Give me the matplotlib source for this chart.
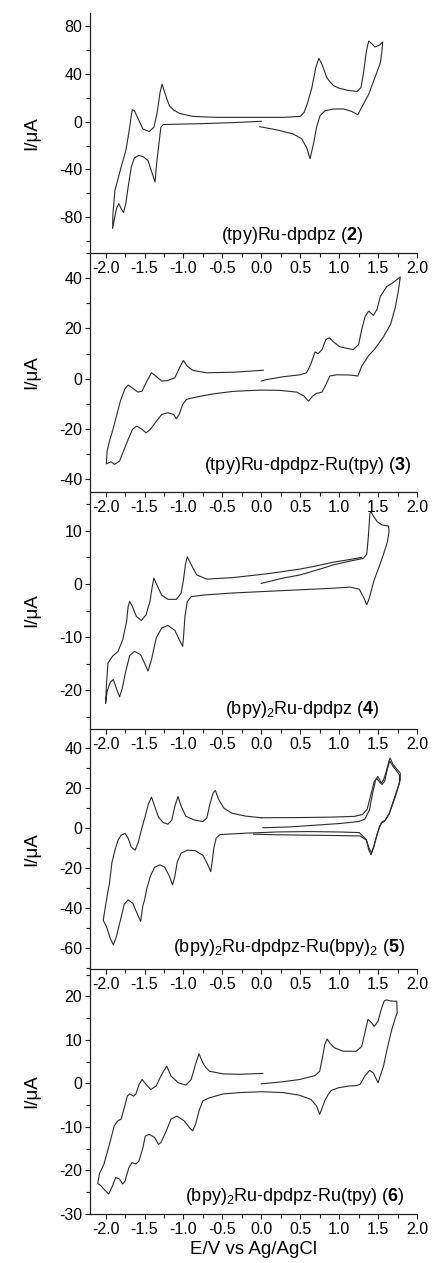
import matplotlib
matplotlib.use('Agg')
import matplotlib.pyplot as plt
from matplotlib.ticker import MultipleLocator, FormatStrFormatter

plt.rcParams['font.family'] = ['Liberation Sans', 'DejaVu Sans']
plt.rcParams['mathtext.fontset'] = 'custom'
plt.rcParams['mathtext.rm'] = 'Liberation Sans'
plt.rcParams['mathtext.it'] = 'Liberation Sans:italic'
plt.rcParams['mathtext.bf'] = 'Liberation Sans:bold'
plt.rcParams['axes.unicode_minus'] = False

# ---------------- data (E / V vs Ag/AgCl, I / uA) ----------------
# (tpy)Ru-dpdpz (2)
e_2 = [0.00, -0.36, -0.79, -1.13, -1.26, -1.29, -1.31, -1.34, -1.365, -1.40, -1.455, -1.52, -1.57, -1.63,
       -1.67, -1.71, -1.74, -1.77, -1.80, -1.83, -1.86, -1.89, -1.91,
       -1.905, -1.88, -1.84, -1.80, -1.74, -1.70, -1.67, -1.657, -1.63, -1.58, -1.52, -1.44, -1.38, -1.34,
       -1.30, -1.275, -1.24, -1.21, -1.18, -1.12, -1.05, -0.88, -0.575, -0.15, 0.28, 0.50, 0.55, 0.59, 0.65,
       0.70, 0.74, 0.78, 0.84, 0.88, 0.93, 1.00, 1.10, 1.23, 1.28, 1.31, 1.35, 1.38, 1.42, 1.46, 1.52, 1.56,
       1.55, 1.53, 1.46, 1.38, 1.29, 1.24, 1.16, 1.06, 0.93, 0.82, 0.755, 0.71, 0.67, 0.627, 0.58, 0.52,
       0.41, 0.24, 0.07, -0.02]
i_2 = [0.3, -0.8, -1.7, -2.2, -2.5, -4.7, -15.8, -32.5, -50.5, -43.6, -32.5, -29.2, -28.3, -30.3,
       -38, -54.7, -68.6, -76.1, -72.8, -68.6, -72.8, -82.5, -89.4,
       -77, -57.5, -47.8, -38, -24.2, -8.9, 5, 10, 9.2, 2.2, -6.1, -8.3, -4.7, 6.4,
       24.4, 31.4, 24.4, 18.5, 13.3, 9.5, 6.9, 4.4, 3.6, 3.6, 3.6, 4.4, 7.8, 14.7, 28.6,
       45.3, 53, 48, 37, 33.5, 30, 28, 26.4, 25.3, 28.6, 39.7, 59.2, 67.5, 65.3, 62.5, 64.2, 66.7,
       59.2, 49.4, 37, 23, 12, 5.8, 8.6, 10.6, 10.6, 9.2, 5, -4.7, -18.6, -31, -21.4, -14.4,
       -10.3, -7.5, -5.3, -4.2]

# (tpy)Ru-dpdpz-Ru(tpy) (3)
e_3 = [0.00, 0.07, 0.28, 0.50, 0.58, 0.635, 0.69, 0.73, 0.78, 0.83, 0.875, 0.93, 1.01, 1.18, 1.25, 1.29,
       1.335, 1.38, 1.44, 1.485, 1.53, 1.61, 1.70, 1.785,
       1.76, 1.72, 1.66, 1.57, 1.46, 1.38, 1.29, 1.24, 1.14, 0.97, 0.88, 0.83, 0.78, 0.71, 0.66, 0.605,
       0.55, 0.455, 0.24, -0.02, -0.36, -0.62, -0.875, -0.96, -1.01, -1.055, -1.09, -1.125, -1.20, -1.28,
       -1.355, -1.425, -1.48, -1.53, -1.60, -1.655, -1.71, -1.77, -1.82, -1.885, -1.93, -1.99,
       -1.98, -1.95, -1.905, -1.86, -1.81, -1.755, -1.71, -1.66, -1.585, -1.53, -1.47, -1.41, -1.355, -1.28,
       -1.20, -1.11, -1.05, -1.00, -0.95, -0.875, -0.70, -0.36, 0.026]
i_3 = [-0.9, -0.3, 0.8, 1.6, 2.4, 5.7, 10.7, 10, 11.6, 15.6, 16.3, 14.6, 12.7, 11.6, 13.6, 19.6,
       24.9, 26.9, 25.2, 27.5, 32.8, 36.6, 38.4, 40.5,
       34.8, 28.2, 21.6, 16.7, 11.9, 9.3, 5, 1.1, 1.5, 1.6, 1.1, -2.3, -5.3, -5.8, -6.9, -8.9,
       -6.9, -5.3, -4.6, -4.5, -5, -6, -7.5, -8.2, -10.2, -14.2, -15.9, -14.2, -13.5, -14.2,
       -17.2, -20.1, -21.5, -20.1, -18.8, -20.1, -24.1, -28.7, -32.7, -34, -33, -33.8,
       -28.7, -24.8, -20.1, -14.8, -8.9, -4.2, -2.5, -3.6, -5.3, -4.9, -0.9, 2.4, 1.1, -0.9,
       -0.7, 0.4, 4.4, 7.3, 5, 3.3, 2.4, 2.6, 3.4]

# (bpy)2Ru-dpdpz (4)
e_4 = [0.00, 0.28, 0.50, 0.71, 0.93, 1.14, 1.31, 1.355, 1.375, 1.395, 1.41, 1.44, 1.49, 1.55, 1.635,
       1.64, 1.62, 1.57, 1.505, 1.45, 1.41, 1.38, 1.355, 1.32, 1.26, 1.14, 0.93, 0.50, 0.07, -0.36,
       -0.75, -0.90, -0.95, -0.98, -1.00, -1.01, -1.05, -1.11, -1.20, -1.28, -1.35, -1.41, -1.455, -1.49,
       -1.55, -1.63, -1.69, -1.74, -1.785, -1.82, -1.855, -1.90, -1.94, -1.98, -2.00,
       -1.99, -1.97, -1.91, -1.84, -1.78, -1.73, -1.71, -1.69, -1.66, -1.605, -1.54, -1.48, -1.43, -1.40,
       -1.38, -1.35, -1.28, -1.20, -1.09, -1.03, -1.00, -0.975, -0.95, -0.91, -0.83, -0.70, -0.36, 0.07,
       0.50, 0.71, 0.93, 1.14, 1.29]
i_4 = [0.1, 1.1, 1.7, 2.6, 3.6, 4.3, 4.8, 5.6, 8.9, 13.25, 13.6, 12.75, 11.7, 11.1, 10.9,
       9.8, 7.9, 5.6, 2.9, 0.75, -1.4, -3, -3.9, -2.7, -1, -0.6, -0.8, -1.1, -1.4, -1.7,
       -2.1, -2.4, -3.3, -6.1, -10.2, -11.75, -10.6, -8.75, -7.8, -8.3, -10.2, -14.25, -16.4, -15.2,
       -13.3, -12.7, -13.5, -16.4, -19.6, -21.25, -19.9, -18, -18.5, -20.2, -22.5,
       -19.25, -14.9, -13.6, -12.7, -10.5, -7.1, -4.25, -3.3, -4.1, -6.1, -6.9, -5.8, -3.3, -0.5,
       1.1, 0.1, -2.1, -2.9, -2.9, -1.75, 0.75, 3.6, 5.1, 3.9, 1.7, 0.9, 1.2, 1.9,
       2.8, 3.4, 4.1, 4.6, 5.0]

# (bpy)2Ru-dpdpz-Ru(bpy)2 (5): first cycle
e_5 = [0.02, 0.35, 0.70, 1.00, 1.25, 1.33, 1.39, 1.43, 1.47, 1.496, 1.52, 1.54, 1.57, 1.61, 1.64, 1.655,
       1.69, 1.74, 1.785,
       1.785, 1.73, 1.645, 1.58, 1.54, 1.50, 1.45, 1.41, 1.38, 1.35, 1.26, 1.00, 0.60, 0.20, -0.20, -0.53,
       -0.58, -0.61, -0.635, -0.65, -0.69, -0.75, -0.85, -0.95, -1.03, -1.08, -1.11, -1.14, -1.18, -1.24,
       -1.30, -1.37, -1.42, -1.47, -1.50, -1.52, -1.55, -1.59, -1.65, -1.71, -1.76, -1.81, -1.86, -1.90,
       -1.945, -1.99, -2.03,
       -2.01, -1.98, -1.95, -1.92, -1.88, -1.84, -1.80, -1.75, -1.71, -1.67, -1.62, -1.58, -1.53, -1.49,
       -1.45, -1.41, -1.37, -1.32, -1.26, -1.20, -1.15, -1.11, -1.07, -1.03, -0.97, -0.87, -0.75, -0.70,
       -0.66, -0.62, -0.59, -0.55, -0.48, -0.38, -0.20, 0.00]
i_5 = [0.2, 0.6, 1.5, 2.3, 3.3, 4.5, 9.2, 17.5, 24.2, 25.8, 24.3, 22.5, 24, 29, 33.5, 35,
       32, 29.5, 27.5,
       24, 17.5, 7.5, 3.3, 2.5, -1.7, -8.3, -13.3, -10.8, -5.8, -2.2, -1.9, -1.7, -1.9, -2.5, -3.2,
       -5, -10, -18, -21.7, -18, -13.5, -11.2, -11, -12.5, -17, -24, -28.3, -24, -19.5,
       -18.3, -19.5, -23.5, -30, -36, -38.5, -46.5, -43, -37.5, -35.8, -38, -46, -54, -58.3,
       -54.5, -49, -46,
       -41, -34, -27.5, -17.5, -11, -6, -3.5, -2.6, -5, -9.5, -11, -7, 0.5, 6,
       12, 15.5, 11, 5.5, 2.8, 2, 4, 11, 15.8, 11, 6, 4.2, 3.3, 5,
       12, 17.5, 18.8, 14.5, 10, 7.5, 6, 5.2]
# (5): second cycle, positive region
e_5b = [0.00, 0.50, 0.90, 1.20, 1.30, 1.36, 1.41, 1.45, 1.485, 1.52, 1.55, 1.585, 1.62, 1.65, 1.69, 1.74,
        1.775, 1.775, 1.72, 1.64, 1.59, 1.555, 1.52, 1.48, 1.445, 1.415, 1.385, 1.35, 1.27, 1.00, 0.60,
        0.20, -0.10]
i_5b = [5.2, 5.3, 5.5, 5.9, 6.8, 9.5, 17, 23.3, 24.8, 23, 21.8, 23.5, 29.5, 33.5, 31, 28.5,
        26.5, 22.5, 15.5, 6.8, 3.8, 3.3, 1.0, -4, -9.5, -12.3, -10, -6, -3.9, -3.7, -3.5,
        -3.3, -3.0]

# (bpy)2Ru-dpdpz-Ru(tpy) (6)
e_6 = [0.00, 0.28, 0.49, 0.69, 0.75, 0.785, 0.815, 0.845, 0.88, 0.94, 1.05, 1.22, 1.29, 1.33, 1.37, 1.42,
       1.45, 1.50, 1.545, 1.58, 1.61, 1.65, 1.70, 1.74,
       1.745, 1.72, 1.67, 1.61, 1.57, 1.52, 1.50, 1.44, 1.39, 1.33, 1.27, 1.22, 1.12, 0.99, 0.90, 0.86,
       0.815, 0.77, 0.75, 0.71, 0.64, 0.49, 0.28, 0.00, -0.28, -0.49, -0.665, -0.75, -0.80, -0.845, -0.88,
       -0.92, -0.99, -1.085, -1.16, -1.22, -1.29, -1.32, -1.37, -1.44, -1.49, -1.52, -1.57, -1.61, -1.66,
       -1.70, -1.75, -1.78, -1.82, -1.87, -1.91, -1.96, -2.02, -2.06, -2.10,
       -2.08, -2.02, -1.95, -1.89, -1.845, -1.80, -1.76, -1.72, -1.69, -1.64, -1.61, -1.57, -1.53, -1.48,
       -1.42, -1.35, -1.29, -1.215, -1.16, -1.07, -0.97, -0.90, -0.845, -0.80, -0.75, -0.71, -0.665, -0.49,
       -0.28, 0.02]
i_6 = [-0.1, 0.4, 0.9, 1.8, 2.8, 5.9, 8.9, 10.2, 9.3, 8.2, 7.4, 7.4, 8.5, 11.6, 14.7, 13.9,
       13.1, 14.3, 17.3, 19, 19.2, 19.0, 18.9, 18.9,
       16.2, 15, 12, 7.4, 4, 1.3, 0.15, 2.4, 3, 1.7, -0.2, -0.5, -0.6, -1, -1.6, -2.5,
       -4, -6.2, -7.1, -5.2, -3.7, -2.7, -2.1, -1.9, -2.1, -2.4, -3.3, -4, -6.3, -9.4, -10.9,
       -10.2, -8.6, -7.5, -8.2, -10.9, -13.6, -14, -12.4, -11.7, -12.1, -14.7, -17.8, -18.5, -18.2,
       -19.3, -22.4, -23.1, -22, -21.6, -23.5, -25.4, -24.3, -23.5, -23,
       -20.8, -18.5, -14, -9.8, -8.6, -8.2, -5.6, -2.9, -2.4, -2.9, -2.4, -0.2, 0.9, -0.2,
       -1.4, -0.6, 1.7, 4, 1.7, 0.2, -0.4, 0.9, 4.4, 6.8, 4.7, 3.6, 2.8, 2.2,
       2.1, 2.3]

labels = [r'(tpy)Ru-dpdpz ($\mathbf{2}$)',
          r'(tpy)Ru-dpdpz-Ru(tpy) ($\mathbf{3}$)',
          r'(bpy)$_2$Ru-dpdpz ($\mathbf{4}$)',
          r'(bpy)$_2$Ru-dpdpz-Ru(bpy)$_2$ ($\mathbf{5}$)',
          r'(bpy)$_2$Ru-dpdpz-Ru(tpy) ($\mathbf{6}$)']

# ---------------- layout ----------------
W, H = 433, 1263
fig = plt.figure(figsize=(W / 100, H / 100), dpi=100)
fig.patch.set_facecolor('white')

rows = [(13, 253), (253, 492), (492, 729), (729, 969), (969, 1214)]
ylims = [(-110, 91), (-45, 50), (-27.3, 17.3), (-70.3, 49.5), (-30, 26.3)]
ymaj = [40, 20, 10, 20, 10]
ymin = [20, 10, 5, 10, 5]
txt_pos = [(0.835, 0.071), (0.982, 0.109), (0.887, 0.084), (0.963, 0.0875), (0.963, 0.073)]
curves = [[(e_2, i_2)], [(e_3, i_3)], [(e_4, i_4)], [(e_5, i_5), (e_5b, i_5b)], [(e_6, i_6)]]

left_px, right_px = 90, 417
line_col = '#2a2a2a'
axes = []
for k, (top, bot) in enumerate(rows):
    ax = fig.add_axes([left_px / W, 1 - bot / H, (right_px - left_px) / W, (bot - top) / H])
    ax.patch.set_alpha(0)
    for (ex, iy) in curves[k]:
        ax.plot(ex, iy, color=line_col, lw=0.8, solid_joinstyle='round')
    ax.set_xlim(-2.2, 2.0)
    ax.set_ylim(*ylims[k])
    for s in ('top', 'right'):
        ax.spines[s].set_visible(False)
    for s in ('left', 'bottom'):
        ax.spines[s].set_linewidth(0.9)
        ax.spines[s].set_color('#222222')
    ax.xaxis.set_major_locator(MultipleLocator(0.5))
    ax.xaxis.set_minor_locator(MultipleLocator(0.25))
    ax.xaxis.set_major_formatter(FormatStrFormatter('%.1f'))
    ax.yaxis.set_major_locator(MultipleLocator(ymaj[k]))
    ax.yaxis.set_minor_locator(MultipleLocator(ymin[k]))
    ax.yaxis.set_major_formatter(FormatStrFormatter('%d'))
    ax.tick_params(which='major', direction='out', length=3.5, width=0.8, labelsize=11.5,
                   color='#222222', pad=2)
    ax.tick_params(which='minor', direction='out', length=2.8, width=0.8, color='#222222')
    ax.set_ylabel('I/\u03bcA', fontsize=13.5)
    ax.yaxis.set_label_coords((40 - left_px) / (right_px - left_px), 0.5)
    ax.text(txt_pos[k][0], txt_pos[k][1], labels[k], transform=ax.transAxes,
            ha='right', va='center', fontsize=13)
    axes.append(ax)

axes[-1].set_xlabel('E/V vs Ag/AgCl', fontsize=13.5, labelpad=3.5)

fig.savefig('out.png', dpi=100, facecolor='white')
